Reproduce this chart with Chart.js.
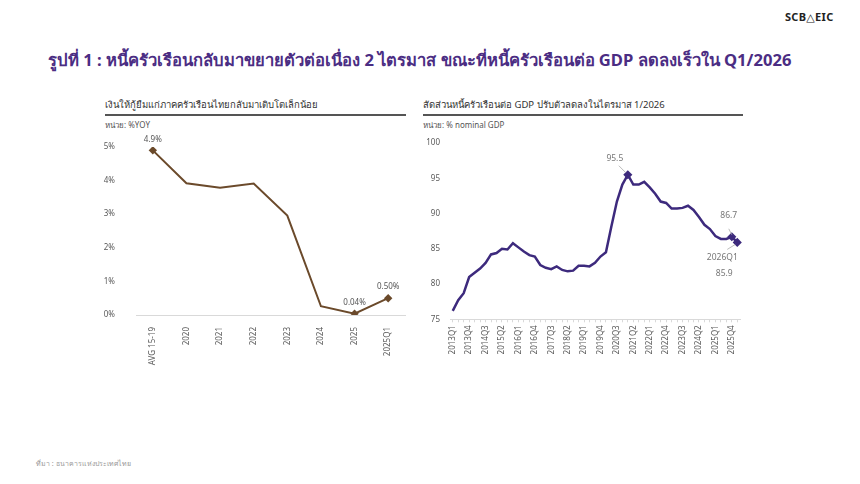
<!DOCTYPE html>
<html>
<head>
<meta charset="utf-8">
<script src="https://cdn.jsdelivr.net/npm/chart.js@4.4.0/dist/chart.umd.min.js"></script>
<style>
  body { margin: 0; background: #fff; font-family: "Noto Sans", "DejaVu Sans", sans-serif; }
  #page { position: relative; width: 860px; height: 484px; overflow: hidden; }
  .abs { position: absolute; white-space: nowrap; }
  #logo { left: 785px; top: 9px; font-size: 11px; font-weight: bold; color: #222; letter-spacing: 0.3px; }
  #title { left: 48px; top: 47px; font-size: 16.6px; font-weight: bold; color: #4b2d83; }
  .sub { font-size: 9.5px; color: #333; }
  .unit { font-size: 8px; color: #555; }
  .rule { position: absolute; height: 1.5px; background: #555; }
  #src { left: 36px; top: 458px; font-size: 7px; color: #999; }
</style>
</head>
<body>
<div id="page">
  <div class="abs" id="logo">SCB△EIC</div>
  <div class="abs" id="title">รูปที่ 1 : หนี้ครัวเรือนกลับมาขยายตัวต่อเนื่อง 2 ไตรมาส ขณะที่หนี้ครัวเรือนต่อ GDP ลดลงเร็วใน Q1/2026</div>

  <div class="abs sub" style="left:105px;top:97px;">เงินให้กู้ยืมแก่ภาคครัวเรือนไทยกลับมาเติบโตเล็กน้อย</div>
  <div class="rule" style="left:105px;top:114px;width:301px;"></div>
  <div class="abs unit" style="left:105px;top:119px;">หน่วย: %YOY</div>

  <div class="abs sub" style="left:423px;top:97px;">สัดส่วนหนี้ครัวเรือนต่อ GDP ปรับตัวลดลงในไตรมาส 1/2026</div>
  <div class="rule" style="left:423px;top:114px;width:320px;"></div>
  <div class="abs unit" style="left:423px;top:119px;">หน่วย: % nominal GDP</div>

  <div class="abs" style="left:100px;top:130px;width:310px;height:250px;"><canvas id="loanChart"></canvas></div>
  <div class="abs" style="left:415px;top:130px;width:340px;height:250px;"><canvas id="debtChart"></canvas></div>

  <div class="abs" id="src">ที่มา : ธนาคารแห่งประเทศไทย</div>
</div>

<script>
// left chart: household loan growth, %YOY
const loanLabels = ["AVG 15-19", "2020", "2021", "2022", "2023", "2024", "2025", "2025Q1"];
const loanGrowth = [4.9, 3.92, 3.79, 3.91, 2.96, 0.26, 0.04, 0.50];
const loanMarked = [0, 6, 7];
const loanTags = ["4.9%", "", "", "", "", "", "0.04%", "0.50%"];

// right chart: household debt to GDP, 2013Q1 - 2026Q1
const debtLabels = [];
for (let y = 2013; y <= 2026; y++) {
  for (let q = 1; q <= 4; q++) {
    if (y === 2026 && q > 1) break;
    debtLabels.push(y + "Q" + q);
  }
}
const debtRatio = [
  76.2, 77.7, 78.7, 81.0, 81.6, 82.2, 83.0, 84.2, 84.4, 85.0,
  84.9, 85.8, 85.2, 84.6, 84.1, 83.9, 82.7, 82.3, 82.1, 82.5,
  82.0, 81.8, 81.9, 82.6, 82.6, 82.5, 83.0, 83.9, 84.5, 88.2,
  91.7, 94.1, 95.5, 94.1, 94.1, 94.5, 93.7, 92.8, 91.7, 91.5,
  90.7, 90.7, 90.8, 91.1, 90.5, 89.5, 88.4, 87.8, 86.8, 86.4,
  86.4, 86.7, 85.9
];
const debtMarked = [32, 51, 52];

const tickFont = { family: "Noto Sans, DejaVu Sans, sans-serif", size: 8 };
const tickColor = "#595959";
const axisGrey = "#d9d9d9";

// left chart labels
const loanTagPlugin = {
  id: "loanTags",
  afterDatasetsDraw(chart) {
    const ctx = chart.ctx;
    const meta = chart.getDatasetMeta(0);
    ctx.save();
    ctx.font = "8px Noto Sans, DejaVu Sans, sans-serif";
    ctx.fillStyle = "#555";
    ctx.textAlign = "center";
    ctx.textBaseline = "middle";
    loanTags.forEach((t, i) => {
      if (!t) return;
      const p = meta.data[i];
      ctx.fillText(t, p.x, p.y - 11);
    });
    ctx.restore();
  }
};

new Chart(document.getElementById("loanChart"), {
  type: "line",
  data: {
    labels: loanLabels,
    datasets: [{
      data: loanGrowth,
      borderColor: "#6b4a2b",
      backgroundColor: "#6b4a2b",
      borderWidth: 2,
      tension: 0,
      pointStyle: "rectRot",
      pointRadius: loanGrowth.map((v, i) => loanMarked.includes(i) ? 2.8 : 0),
      pointHoverRadius: 0
    }]
  },
  options: {
    responsive: true,
    maintainAspectRatio: false,
    animation: false,
    layout: { padding: { top: 17, right: 5, left: 0, bottom: 0 } },
    plugins: { legend: { display: false }, tooltip: { enabled: false } },
    scales: {
      x: {
        offset: true,
        grid: { display: false },
        border: { color: axisGrey },
        ticks: { color: tickColor, font: tickFont, maxRotation: 90, minRotation: 90, autoSkip: false, padding: 4 },
        afterFit(s) { s.height = 65; }
      },
      y: {
        min: 0, max: 5,
        // tick length only pushes the labels away from the plot
        grid: { display: false, drawTicks: true, tickLength: 11 },
        border: { display: false },
        ticks: { color: tickColor, font: tickFont, stepSize: 1, padding: 10, callback: v => v + "%" },
        afterFit(s) { s.width = 36; }
      }
    }
  },
  plugins: [loanTagPlugin]
});

// right chart callouts
const debtTagPlugin = {
  id: "debtTags",
  afterDatasetsDraw(chart) {
    const ctx = chart.ctx;
    const meta = chart.getDatasetMeta(0);
    const peak = meta.data[32], last = meta.data[51], now = meta.data[52];
    ctx.save();
    ctx.strokeStyle = "#aaa";
    ctx.lineWidth = 0.8;
    ctx.beginPath();
    ctx.moveTo(peak.x - 9, peak.y - 9); ctx.lineTo(peak.x - 2, peak.y - 2);
    ctx.moveTo(last.x - 3, last.y - 8); ctx.lineTo(last.x, last.y - 2);
    ctx.moveTo(now.x - 10, now.y + 7); ctx.lineTo(now.x - 2, now.y + 2);
    ctx.stroke();
    ctx.font = "8.5px Noto Sans, DejaVu Sans, sans-serif";
    ctx.fillStyle = "#777";
    ctx.textAlign = "center";
    ctx.textBaseline = "middle";
    ctx.fillText(debtRatio[32].toFixed(1), peak.x - 13, peak.y - 16);
    ctx.fillText(debtRatio[51].toFixed(1), last.x - 3, last.y - 21);
    ctx.fillText(debtLabels[52], now.x - 15, now.y + 15);
    ctx.fillText(debtRatio[52].toFixed(1), now.x - 13, now.y + 31);
    ctx.restore();
  }
};

new Chart(document.getElementById("debtChart"), {
  type: "line",
  data: {
    labels: debtLabels,
    datasets: [{
      data: debtRatio,
      borderColor: "#3d2a7d",
      backgroundColor: "#3d2a7d",
      borderWidth: 2.5,
      tension: 0,
      pointStyle: "rectRot",
      pointRadius: debtRatio.map((v, i) => debtMarked.includes(i) ? 2.8 : 0),
      pointHoverRadius: 0
    }]
  },
  options: {
    responsive: true,
    maintainAspectRatio: false,
    animation: false,
    layout: { padding: { top: 13, right: 15, left: 0, bottom: 0 } },
    plugins: { legend: { display: false }, tooltip: { enabled: false } },
    scales: {
      x: {
        offset: true,
        grid: { display: true, drawOnChartArea: false, drawTicks: true, tickLength: 3, color: axisGrey },
        border: { color: axisGrey },
        ticks: {
          color: tickColor, font: tickFont, maxRotation: 90, minRotation: 90, autoSkip: false, padding: 3,
          callback(v, i) { return i % 3 === 0 ? debtLabels[i] : ""; }
        },
        afterFit(s) { s.height = 60.7; }
      },
      y: {
        min: 75, max: 100,
        grid: { display: false, drawTicks: true, tickLength: 2 },
        border: { display: false },
        ticks: { color: tickColor, font: tickFont, stepSize: 5, padding: 8 },
        afterFit(s) { s.width = 35; }
      }
    }
  },
  plugins: [debtTagPlugin]
});
</script>
</body>
</html>
